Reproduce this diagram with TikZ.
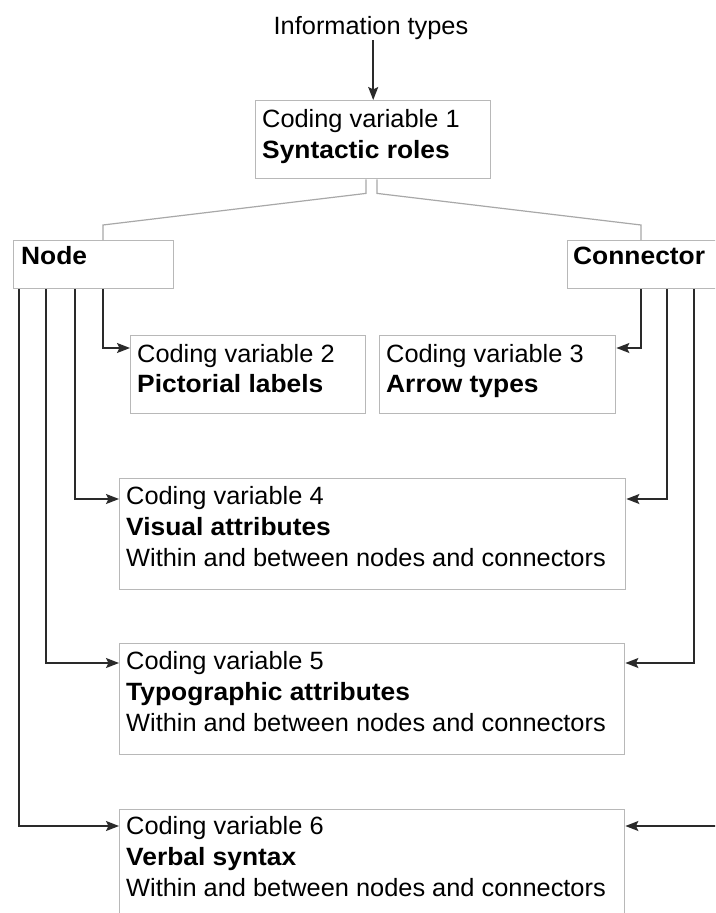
\documentclass[tikz,border=0pt]{standalone}
\usepackage{fontspec}
\setmainfont{Liberation Sans}[UprightFeatures={FakeStretch=1.015},BoldFeatures={FakeStretch=1.055}]
\usetikzlibrary{arrows.meta}
\definecolor{boxgray}{HTML}{B8B8B8}
\definecolor{treegray}{HTML}{A8A8A8}
\definecolor{linegray}{HTML}{2A2A2A}
\tikzset{
  box/.style={draw=boxgray, line width=1.4pt, anchor=north west, inner sep=0pt},
  txt/.style={anchor=base west, inner sep=0pt, font=\fontsize{25}{31}\selectfont},
  btxt/.style={anchor=base west, inner sep=0pt, font=\fontsize{25}{31}\selectfont\bfseries},
  conn/.style={draw=linegray, line width=1.5pt},
  arr/.style={conn, -{Stealth[length=13pt,width=10pt,inset=2.5pt]}},
  tree/.style={draw=treegray, line width=1.2pt},
}
\begin{document}
\begin{tikzpicture}[x=1pt,y=-1pt]
\clip (0,0) rectangle (715,913);
\fill[white] (0,0) rectangle (715,913);
% title
\node[anchor=base, inner sep=1pt, font=\fontsize{25}{31}\selectfont] (info) at (371,34) {Information types};
% boxes
\node[box, minimum width=235pt, minimum height=78pt] (b1) at (255,100) {};
\node[box, minimum width=160pt, minimum height=48pt] (n) at (13,240) {};
\node[box, minimum width=180pt, minimum height=48pt] (c) at (567,240) {};
\node[box, minimum width=235pt, minimum height=78pt] (b2) at (130,335) {};
\node[box, minimum width=236pt, minimum height=78pt] (b3) at (379,335) {};
\node[box, minimum width=506pt, minimum height=111pt] (b4) at (119,478) {};
\node[box, minimum width=505pt, minimum height=111pt] (b5) at (119,643) {};
\node[box, minimum width=505pt, minimum height=130pt] (b6) at (119,809) {};
% texts
\node[txt]  (t1a) at (262,127) {Coding variable 1};
\node[btxt] (t1b) at (262,158) {Syntactic roles};
\node[btxt] (tn)  at (21,264) {Node};
\node[btxt] (tc)  at (573,264) {Connector};
\node[txt]  (t2a) at (137,362) {Coding variable 2};
\node[btxt] (t2b) at (137,392) {Pictorial labels};
\node[txt]  (t3a) at (386,362) {Coding variable 3};
\node[btxt] (t3b) at (386,392) {Arrow types};
\node[txt]  (t4a) at (126,504) {Coding variable 4};
\node[btxt] (t4b) at (126,535) {Visual attributes};
\node[txt]  (t4c) at (126,566) {Within and between nodes and connectors};
\node[txt]  (t5a) at (126,669) {Coding variable 5};
\node[btxt] (t5b) at (126,700) {Typographic attributes};
\node[txt]  (t5c) at (126,731) {Within and between nodes and connectors};
\node[txt]  (t6a) at (126,834) {Coding variable 6};
\node[btxt] (t6b) at (126,865) {Verbal syntax};
\node[txt]  (t6c) at (126,896) {Within and between nodes and connectors};
% top arrow
\draw[arr] (info.south -| b1.north) -- (b1.north);
% tree lines
\draw[tree] ([xshift=111pt]b1.south west) -- ++(0,14) -- ([xshift=90pt,yshift=15pt]n.north west) -- ([xshift=90pt]n.north west);
\draw[tree] ([xshift=122pt]b1.south west) -- ++(0,14) -- ([xshift=74pt,yshift=15pt]c.north west) -- ([xshift=74pt]c.north west);
% node connectors
\draw[arr] ([xshift=90pt]n.south west) |- ([yshift=-13pt]b2.north west);
\draw[arr] ([xshift=62pt]n.south west) |- ([yshift=-21pt]b4.north west);
\draw[arr] ([xshift=33pt]n.south west) |- ([yshift=-20pt]b5.north west);
\draw[arr] ([xshift=6pt]n.south west) |- ([yshift=-17pt]b6.north west);
% connector connectors
\draw[arr] ([xshift=74pt]c.south west) |- ([yshift=-13pt]b3.north east);
\draw[arr] ([xshift=100pt]c.south west) |- ([yshift=-21pt]b4.north east);
\draw[arr] ([xshift=127pt]c.south west) |- ([yshift=-20pt]b5.north east);
\draw[arr] ([xshift=154pt]c.south west) |- ([yshift=-17pt]b6.north east);
\end{tikzpicture}
\end{document}
